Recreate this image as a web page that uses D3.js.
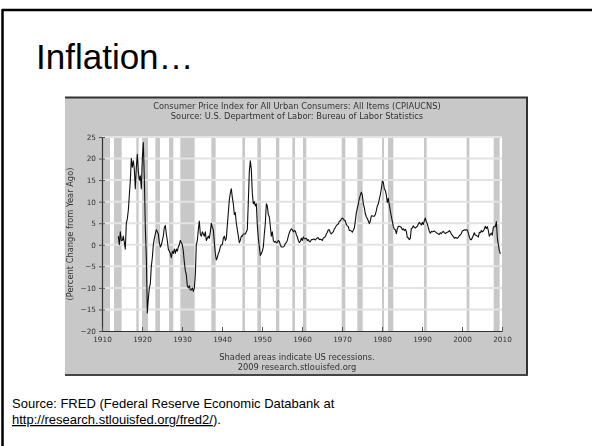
<!DOCTYPE html>
<html>
<head>
<meta charset="utf-8">
<script src="https://cdnjs.cloudflare.com/ajax/libs/d3/7.8.5/d3.min.js"></script>
<style>
  html, body { margin: 0; padding: 0; background: #fff; }
  svg { display: block; }
</style>
</head>
<body>
<svg id="slide" width="592" height="446"></svg>
<script>
// Consumer Price Index, percent change from year ago (quarterly readings: Feb, May, Aug, Nov)
const firstYear = 1914;
const quarterlyChange = [
  /*1914*/ [2.0, 0.0, 3.0, 1.0],
  /*1915*/ [1.0, 2.0, 0.5, -1.0],
  /*1916*/ [5.0, 6.0, 8.0, 11.5],
  /*1917*/ [15.0, 20.0, 18.0, 19.5],
  /*1918*/ [17.5, 13.0, 18.0, 21.0],
  /*1919*/ [17.0, 15.0, 16.0, 13.0],
  /*1920*/ [20.0, 23.7, 15.5, 4.0],
  /*1921*/ [-3.0, -15.8, -12.5, -10.0],
  /*1922*/ [-9.0, -5.0, -3.0, 0.0],
  /*1923*/ [1.5, 2.5, 3.5, 3.0],
  /*1924*/ [2.5, 0.5, -0.5, 0.0],
  /*1925*/ [1.0, 2.0, 4.0, 4.5],
  /*1926*/ [2.5, 1.0, -1.0, -1.5],
  /*1927*/ [-2.0, -3.0, -1.5, -2.0],
  /*1928*/ [-1.0, -2.0, -1.0, -1.5],
  /*1929*/ [-0.5, 0.0, 1.0, 0.5],
  /*1930*/ [0.0, -1.5, -4.0, -6.0],
  /*1931*/ [-7.0, -9.5, -10.0, -9.5],
  /*1932*/ [-10.5, -10.5, -10.0, -10.8],
  /*1933*/ [-10.0, -7.0, 0.0, 1.0],
  /*1934*/ [3.5, 5.5, 2.5, 2.0],
  /*1935*/ [3.0, 2.5, 2.0, 3.0],
  /*1936*/ [1.0, 1.5, 2.0, 1.5],
  /*1937*/ [3.0, 5.0, 4.0, 3.5],
  /*1938*/ [0.5, -2.0, -3.5, -3.0],
  /*1939*/ [-2.0, -1.5, -0.5, 0.0],
  /*1940*/ [0.0, 1.5, 2.0, 1.0],
  /*1941*/ [1.5, 4.5, 7.5, 10.5],
  /*1942*/ [12.0, 13.0, 11.0, 9.5],
  /*1943*/ [7.0, 7.5, 5.0, 3.5],
  /*1944*/ [2.0, 0.5, 1.0, 2.0],
  /*1945*/ [2.0, 2.5, 2.5, 2.5],
  /*1946*/ [3.0, 3.5, 10.0, 17.0],
  /*1947*/ [19.5, 17.5, 12.0, 9.5],
  /*1948*/ [10.0, 9.0, 9.5, 4.5],
  /*1949*/ [1.5, -0.5, -2.5, -2.0],
  /*1950*/ [-1.5, -0.5, 2.5, 5.0],
  /*1951*/ [9.5, 9.0, 7.0, 6.5],
  /*1952*/ [4.3, 2.0, 3.0, 1.0],
  /*1953*/ [0.6, 0.8, 0.5, 0.6],
  /*1954*/ [1.0, 0.8, 0.0, -0.5],
  /*1955*/ [-0.5, -0.5, -0.3, 0.3],
  /*1956*/ [0.5, 1.0, 2.0, 2.8],
  /*1957*/ [3.3, 3.7, 3.5, 3.0],
  /*1958*/ [3.3, 3.2, 2.4, 1.8],
  /*1959*/ [1.0, 0.5, 0.8, 1.5],
  /*1960*/ [1.0, 1.8, 1.4, 1.4],
  /*1961*/ [1.5, 1.0, 1.2, 0.7],
  /*1962*/ [0.7, 1.2, 1.2, 1.3],
  /*1963*/ [1.3, 1.1, 1.4, 1.6],
  /*1964*/ [1.6, 1.2, 1.3, 1.2],
  /*1965*/ [1.0, 1.6, 1.7, 1.9],
  /*1966*/ [2.5, 2.9, 3.5, 3.5],
  /*1967*/ [2.8, 2.5, 2.8, 3.0],
  /*1968*/ [3.7, 4.0, 4.4, 4.7],
  /*1969*/ [4.8, 5.5, 5.5, 6.0],
  /*1970*/ [6.2, 6.0, 5.7, 5.6],
  /*1971*/ [4.7, 4.4, 4.2, 3.3],
  /*1972*/ [3.3, 3.2, 2.9, 3.4],
  /*1973*/ [3.9, 5.5, 7.4, 8.5],
  /*1974*/ [9.5, 10.7, 11.5, 12.2],
  /*1975*/ [11.5, 9.5, 8.6, 7.2],
  /*1976*/ [6.5, 6.1, 5.5, 4.9],
  /*1977*/ [5.5, 6.7, 6.7, 6.6],
  /*1978*/ [6.6, 7.0, 7.9, 9.0],
  /*1979*/ [9.5, 10.6, 11.6, 13.0],
  /*1980*/ [14.8, 14.5, 13.0, 12.6],
  /*1981*/ [11.5, 9.8, 10.8, 9.2],
  /*1982*/ [7.8, 6.6, 5.5, 4.2],
  /*1983*/ [3.6, 3.5, 2.6, 3.7],
  /*1984*/ [4.3, 4.3, 4.2, 4.0],
  /*1985*/ [3.5, 3.7, 3.3, 3.6],
  /*1986*/ [3.1, 1.7, 1.6, 1.2],
  /*1987*/ [1.5, 3.8, 3.9, 4.4],
  /*1988*/ [4.0, 3.9, 4.1, 4.3],
  /*1989*/ [4.8, 5.2, 4.9, 4.6],
  /*1990*/ [5.2, 4.7, 5.6, 6.2],
  /*1991*/ [5.3, 4.9, 4.0, 3.1],
  /*1992*/ [2.7, 3.1, 3.0, 3.1],
  /*1993*/ [3.2, 3.0, 2.8, 2.7],
  /*1994*/ [2.5, 2.4, 2.8, 2.6],
  /*1995*/ [2.9, 3.1, 2.8, 2.6],
  /*1996*/ [2.8, 2.9, 3.0, 3.3],
  /*1997*/ [3.0, 2.5, 2.2, 1.9],
  /*1998*/ [1.5, 1.7, 1.6, 1.5],
  /*1999*/ [1.7, 2.1, 2.3, 2.6],
  /*2000*/ [3.2, 3.3, 3.5, 3.4],
  /*2001*/ [3.5, 3.4, 2.7, 1.9],
  /*2002*/ [1.2, 1.2, 1.6, 2.2],
  /*2003*/ [2.8, 2.2, 2.2, 2.0],
  /*2004*/ [1.8, 2.9, 2.8, 3.3],
  /*2005*/ [3.0, 3.2, 3.6, 4.3],
  /*2006*/ [3.8, 4.2, 3.3, 2.0],
  /*2007*/ [2.4, 2.7, 2.2, 4.1],
  /*2008*/ [4.2, 4.2, 5.4, 1.6],
  /*2009*/ [0.0, -1.3, -2.1]
];
const quarterMonths = ["02", "05", "08", "11"];

// NBER recession periods (peak month, trough month)
const recessionStarts = ["1910-01","1913-01","1918-08","1920-01","1923-05","1926-10","1929-08","1937-05","1945-02","1948-11","1953-07","1957-08","1960-04","1969-12","1973-11","1980-01","1981-07","1990-07","2001-03","2007-12"];
const recessionEnds   = ["1912-01","1914-12","1919-03","1921-07","1924-07","1927-11","1933-03","1938-06","1945-10","1949-10","1954-05","1958-04","1961-02","1970-11","1975-03","1980-07","1982-11","1991-03","2001-11","2009-06"];

const yTicks = [-20, -15, -10, -5, 0, 5, 10, 15, 20, 25];
const xTickYears = [1910, 1920, 1930, 1940, 1950, 1960, 1970, 1980, 1990, 2000, 2010];

const chartTitle = ["Consumer Price Index for All Urban Consumers: All Items (CPIAUCNS)",
                    "Source: U.S. Department of Labor: Bureau of Labor Statistics"];
const chartNote = ["Shaded areas indicate US recessions.", "2009 research.stlouisfed.org"];
const yAxisLabel = "(Percent Change from Year Ago)";

const parseMonth = d3.timeParse("%Y-%m");
const series = [];
quarterlyChange.forEach((row, i) => {
  row.forEach((v, q) => {
    series.push({ date: parseMonth((firstYear + i) + "-" + quarterMonths[q]), value: v });
  });
});
const recessions = recessionStarts.map((s, i) => ({ start: parseMonth(s), end: parseMonth(recessionEnds[i]) }));

const svg = d3.select("#slide");
const defs = svg.append("defs");
defs.append("filter").attr("id", "soft").attr("x", "-2%").attr("y", "-2%").attr("width", "104%").attr("height", "104%")
  .append("feGaussianBlur").attr("stdDeviation", 0.35);

// slide frame
svg.append("rect").attr("x", 0).attr("y", 0).attr("width", 592).attr("height", 446).attr("fill", "#fff");
svg.append("line").attr("x1", 2).attr("x2", 592).attr("y1", 10).attr("y2", 10)
  .attr("stroke", "#000").attr("stroke-width", 2.5);
svg.append("line").attr("x1", 2.5).attr("x2", 2.5).attr("y1", 9).attr("y2", 446)
  .attr("stroke", "#000").attr("stroke-width", 2.5);

svg.append("text").attr("x", 36).attr("y", 69)
  .attr("font-family", "Liberation Sans, Arial, sans-serif").attr("font-size", 35)
  .attr("fill", "#000").text("Inflation\u2026");

// chart panel
const chart = svg.append("g").attr("filter", "url(#soft)");
const panel = { x: 65, y: 97, w: 463, h: 279 };
chart.append("rect").attr("x", panel.x).attr("y", panel.y).attr("width", panel.w).attr("height", panel.h)
  .attr("fill", "#c8c8c8");
chart.append("line").attr("x1", panel.x).attr("x2", panel.x + panel.w).attr("y1", panel.y + 0.5).attr("y2", panel.y + 0.5)
  .attr("stroke", "#333").attr("stroke-width", 2);
chart.append("line").attr("x1", panel.x + panel.w - 1).attr("x2", panel.x + panel.w - 1).attr("y1", panel.y).attr("y2", panel.y + panel.h)
  .attr("stroke", "#333").attr("stroke-width", 2);
chart.append("line").attr("x1", panel.x).attr("x2", panel.x + panel.w).attr("y1", panel.y + panel.h - 1).attr("y2", panel.y + panel.h - 1)
  .attr("stroke", "#444").attr("stroke-width", 2);

const chartFont = "DejaVu Sans, Verdana, sans-serif";
const txtColor = "#333";

chart.selectAll("text.ctitle").data(chartTitle).enter().append("text")
  .attr("class", "ctitle").attr("x", 297).attr("y", (d, i) => 108.5 + i * 10)
  .attr("text-anchor", "middle").attr("font-family", chartFont).attr("font-size", 8.3)
  .attr("fill", txtColor).text(d => d);

const plot = { left: 102, right: 502, top: 137, bottom: 331 };
const x = d3.scaleTime().domain([parseMonth("1910-01"), parseMonth("2010-01")]).range([plot.left, plot.right]);
const y = d3.scaleLinear().domain([-20, 25]).range([plot.bottom, plot.top]);

chart.append("rect").attr("x", plot.left).attr("y", plot.top)
  .attr("width", plot.right - plot.left).attr("height", plot.bottom - plot.top).attr("fill", "#fff");

// recession shading
chart.append("g").selectAll("rect").data(recessions).enter().append("rect")
  .attr("x", d => x(d.start)).attr("y", plot.top)
  .attr("width", d => Math.max(1.5, x(d.end) - x(d.start))).attr("height", plot.bottom - plot.top)
  .attr("fill", "#c8c8c8");

// horizontal grid
chart.append("g").selectAll("line").data(yTicks.filter(t => t > -20)).enter().append("line")
  .attr("x1", plot.left).attr("x2", plot.right).attr("y1", d => y(d)).attr("y2", d => y(d))
  .attr("stroke", "#e3e3e3").attr("stroke-width", 2);

// series line
const line = d3.line().x(d => x(d.date)).y(d => y(d.value));
chart.append("path").datum(series).attr("d", line)
  .attr("fill", "none").attr("stroke", "#111").attr("stroke-width", 1.1).attr("stroke-linejoin", "round");

// axes
const yAxis = d3.axisLeft(y).tickValues(yTicks).tickSizeInner(-3).tickSizeOuter(0).tickPadding(6);
const gy = chart.append("g").attr("transform", `translate(${plot.left},0)`).call(yAxis);
const xAxis = d3.axisBottom(x).tickValues(xTickYears.map(yr => parseMonth(yr + "-01")))
  .tickFormat(d3.timeFormat("%Y")).tickSizeInner(-4).tickSizeOuter(0).tickPadding(6);
const gx = chart.append("g").attr("transform", `translate(0,${plot.bottom})`).call(xAxis);
[gx, gy].forEach(g => {
  g.select(".domain").attr("stroke", "#333").attr("stroke-width", 1.2);
  g.selectAll(".tick line").attr("stroke", "#555");
  g.selectAll("text").attr("font-family", chartFont).attr("font-size", 7.3).attr("fill", txtColor);
});
gy.selectAll(".tick").append("line").attr("x1", -3).attr("x2", 0).attr("stroke", "#555");

chart.append("text").attr("transform", `translate(73,${(plot.top + plot.bottom) / 2}) rotate(-90)`)
  .attr("text-anchor", "middle").attr("font-family", chartFont).attr("font-size", 8.3)
  .attr("fill", txtColor).text(yAxisLabel);

chart.selectAll("text.cnote").data(chartNote).enter().append("text")
  .attr("class", "cnote").attr("x", 297).attr("y", (d, i) => 359.5 + i * 10)
  .attr("text-anchor", "middle").attr("font-family", chartFont).attr("font-size", 8.3)
  .attr("fill", txtColor).text(d => d);

// source note
const srcFont = "Liberation Sans, Arial, sans-serif";
svg.append("text").attr("x", 12).attr("y", 408).attr("font-family", srcFont).attr("font-size", 13)
  .attr("fill", "#000").text("Source: FRED (Federal Reserve Economic Databank at");
const src2 = svg.append("text").attr("x", 12).attr("y", 424).attr("font-family", srcFont).attr("font-size", 13)
  .attr("fill", "#000");
src2.append("tspan").attr("text-decoration", "underline").text("http://research.stlouisfed.org/fred2/");
src2.append("tspan").text(").");
</script>
</body>
</html>
